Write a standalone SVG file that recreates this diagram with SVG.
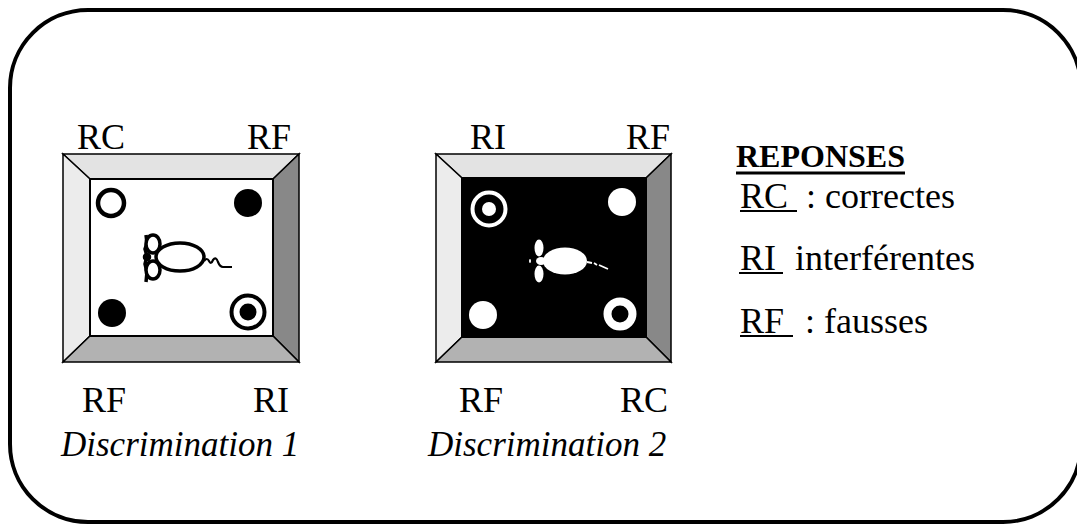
<svg xmlns="http://www.w3.org/2000/svg" width="1077" height="524" viewBox="0 0 1077 524">
  <style>
    text { font-family: "Liberation Serif", "DejaVu Serif", serif; fill: #000; }
    .lbl { font-size: 36px; }
    .cap { font-size: 35px; font-style: italic; }
    .leg { font-size: 36px; }
    .head { font-size: 32px; font-weight: bold; }
    .edge { stroke: #000; stroke-width: 1.5; stroke-linejoin: miter; }
    .top { fill: #e3e3e3; }
    .left { fill: #ececec; }
    .right { fill: #888888; }
    .bottom { fill: #b2b2b2; }
    .ul { stroke: #000; stroke-width: 2; }
  </style>

  <!-- outer frame -->
  <rect id="frame" x="10" y="10" width="1071" height="512" rx="78" ry="78" fill="#fff" stroke="#000" stroke-width="4"/>

  <!-- arena 1 : white floor -->
  <g id="arena1">
    <polygon class="top edge" points="63,154 299,154 273,179 90,179"/>
    <polygon class="left edge" points="63,154 90,179 90,336 63,362"/>
    <polygon class="right edge" points="299,154 273,179 273,336 299,362"/>
    <polygon class="bottom edge" points="63,362 90,336 273,336 299,362"/>
    <rect x="90" y="179" width="183" height="157" fill="#fff" stroke="#000" stroke-width="2"/>
    <!-- holes -->
    <circle cx="111" cy="203" r="13" fill="#fff" stroke="#000" stroke-width="4.5"/>
    <circle cx="248" cy="203" r="14" fill="#000"/>
    <circle cx="112" cy="313" r="14" fill="#000"/>
    <circle cx="248" cy="312" r="16.5" fill="#fff" stroke="#000" stroke-width="4"/>
    <circle cx="248" cy="312" r="8.5" fill="#000"/>
    <!-- mouse outline -->
    <g id="mouse1" fill="#fff" stroke="#000" stroke-width="3.5">
      <path d="M146,235 l1,8 l-2,6 l2,7 l-2,8 l2,8 l-1,10" fill="none"/>
      <ellipse cx="180" cy="257" rx="24" ry="14"/>
      <ellipse cx="153" cy="244" rx="7" ry="9"/>
      <ellipse cx="153" cy="270" rx="7" ry="9"/>
      <circle cx="147" cy="257" r="2.5" fill="#000"/>
      <path d="M204,261 q3,-4 5,0 q2,4 4,-1 q3,-4 5,2 q2,5 5,5 l9,0" fill="none" stroke-width="2.2"/>
    </g>
    <text class="lbl" x="77" y="149">RC</text>
    <text class="lbl" x="247" y="149">RF</text>
    <text class="lbl" x="82" y="412">RF</text>
    <text class="lbl" x="253" y="412">RI</text>
    <text class="cap" x="61" y="456">Discrimination 1</text>
  </g>

  <!-- arena 2 : black floor -->
  <g id="arena2">
    <polygon class="top edge" points="436,154 671,154 646,178 462,178"/>
    <polygon class="left edge" points="436,154 462,178 462,337 436,362"/>
    <polygon class="right edge" points="671,154 646,178 646,337 671,362"/>
    <polygon class="bottom edge" points="436,362 462,337 646,337 671,362"/>
    <rect x="462" y="178" width="184" height="159" fill="#000" stroke="#000" stroke-width="2"/>
    <!-- holes -->
    <circle cx="489" cy="209" r="16.5" fill="none" stroke="#fff" stroke-width="4"/>
    <circle cx="489" cy="209" r="7" fill="#fff"/>
    <circle cx="622" cy="202" r="14" fill="#fff"/>
    <circle cx="483" cy="315" r="14" fill="#fff"/>
    <circle cx="620" cy="314" r="12.5" fill="none" stroke="#fff" stroke-width="8"/>
    <!-- mouse silhouette -->
    <g id="mouse2" fill="#fff">
      <ellipse cx="565" cy="261" rx="22" ry="13.5"/>
      <ellipse cx="539" cy="248" rx="4.5" ry="8.5"/>
      <ellipse cx="539" cy="274" rx="4.5" ry="8.5"/>
      <ellipse cx="541" cy="261" rx="5" ry="4"/>
      <ellipse cx="530" cy="261" rx="1" ry="2"/>
      <path d="M587,262 l5,1 M594,263 l3,2 M599,265 l9,4" fill="none" stroke="#fff" stroke-width="1.8"/>
    </g>
    <text class="lbl" x="470" y="149">RI</text>
    <text class="lbl" x="626" y="149">RF</text>
    <text class="lbl" x="459" y="412">RF</text>
    <text class="lbl" x="620" y="412">RC</text>
    <text class="cap" x="428" y="456">Discrimination 2</text>
  </g>

  <!-- legend -->
  <g id="legend">
    <text class="head" x="736" y="167">REPONSES</text>
    <line x1="736" y1="173" x2="905" y2="173" stroke="#000" stroke-width="3"/>
    <text class="leg" x="740" y="208">RC</text>
    <line class="ul" x1="740" y1="211" x2="797" y2="211"/>
    <text class="leg" x="806" y="208">: correctes</text>
    <text class="leg" x="740" y="270">RI</text>
    <line class="ul" x1="739" y1="273" x2="783" y2="273"/>
    <text class="leg" x="795" y="270">interférentes</text>
    <text class="leg" x="740" y="333">RF</text>
    <line class="ul" x1="740" y1="336" x2="793" y2="336"/>
    <text class="leg" x="805" y="333">: fausses</text>
  </g>
</svg>
